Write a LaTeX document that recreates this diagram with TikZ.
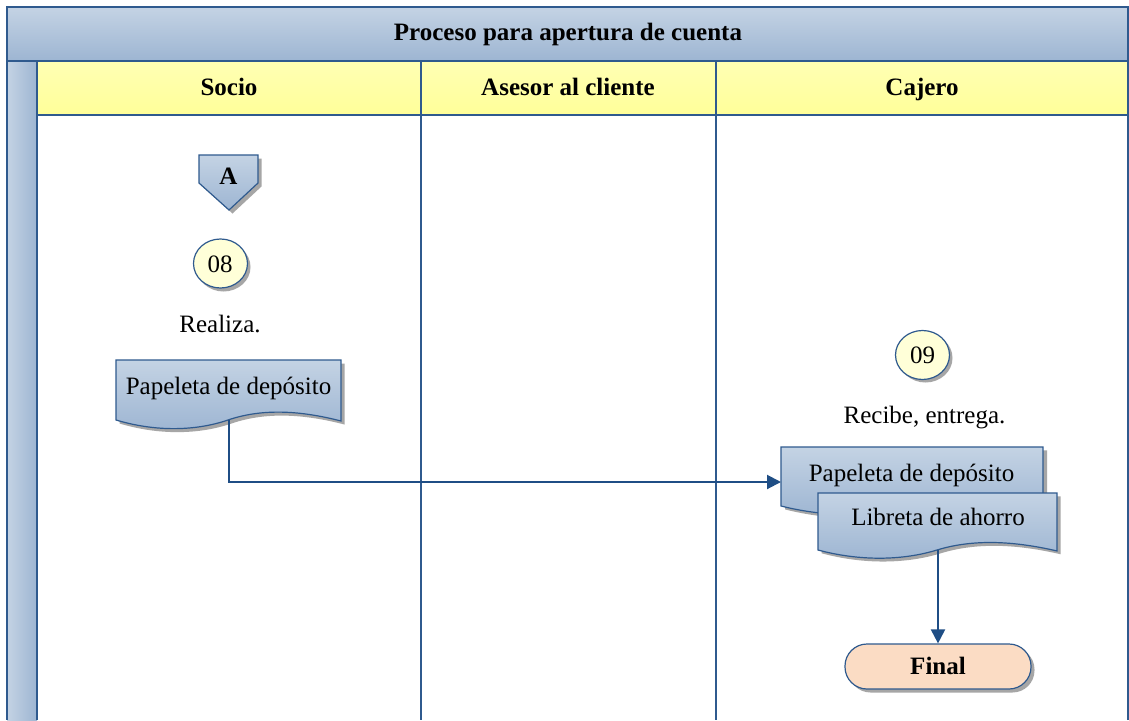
\documentclass[tikz,border=0pt]{standalone}
\usepackage{fontspec}
\setmainfont{Liberation Serif}
\usetikzlibrary{arrows.meta,shapes.geometric}
\definecolor{edge}{HTML}{2F5A8E}
\definecolor{flow}{HTML}{1F4E85}
\definecolor{blueT}{HTML}{C4D3E4}
\definecolor{blueB}{HTML}{9DB5D2}
\definecolor{yelT}{HTML}{FFFFB4}
\definecolor{yelB}{HTML}{FFFF99}
\definecolor{peach}{HTML}{FBDCC4}
\definecolor{shade}{HTML}{A6A6A6}
\definecolor{cream}{HTML}{FFFFD8}
\tikzset{
  x=1pt,y=-1pt,
  blueshape/.style={draw=edge,line width=1.2pt,top color=blueT,bottom color=blueB},
  shadowshape/.style={fill=shade,draw=none},
  titletext/.style={font=\fontsize{25}{28}\selectfont\bfseries,inner sep=0pt,anchor=base},
  bodytext/.style={font=\fontsize{25}{28}\selectfont,inner sep=0pt,anchor=base},
  laneline/.style={draw=edge,line width=2pt},
  flowline/.style={draw=flow,line width=2pt,-{Triangle[length=14pt,width=14pt]}},
  stepcircle/.style={ellipse,draw=edge,line width=1.2pt,fill=cream,minimum width=54pt,minimum height=49pt,inner sep=0pt},
}
\newcommand{\docshape}[4]{%
  \begin{scope}[shift={(#1,#2)},xscale=#3/225,yscale=#4/60]
    \fill[shadowshape,shift={(3.5,3.5)}] (0,0) -- (225,0) -- (225,61) .. controls (190,52) and (150,47) .. (112,60) .. controls (80,71) and (40,72) .. (0,60) -- cycle;
    \path[blueshape] (0,0) -- (225,0) -- (225,61) .. controls (190,52) and (150,47) .. (112,60) .. controls (80,71) and (40,72) .. (0,60) -- cycle;
  \end{scope}}
\begin{document}
\begin{tikzpicture}
\useasboundingbox (0,0) rectangle (1129,720);
\fill[white] (0,0) rectangle (1129,720);
% bands
\path[top color=blueT,bottom color=blueB] (7,7) rectangle (1128,61);
\path[left color=blueT,right color=blueB] (7,61) rectangle (37,720);
\path[top color=yelT,bottom color=yelB] (37,61) rectangle (1128,115);
% rules
\draw[laneline] (1128,720) -- (1128,7) -- (7,7) -- (7,720);
\draw[laneline] (7,61) -- (1128,61);
\draw[laneline] (37,115) -- (1128,115);
\draw[laneline] (37,61) -- (37,720);
\draw[laneline] (420.5,61) -- (420.5,720);
\draw[laneline] (716,61) -- (716,720);
% headers
\node[titletext] (title) at (568,40) {Proceso para apertura de cuenta};
\node[titletext] (socio) at (229,95) {Socio};
\node[titletext] (asesor) at (568,95) {Asesor al cliente};
\node[titletext] (cajero) at (922,95) {Cajero};
% off-page connector
\fill[shadowshape] (202.5,158.5) -- (261.5,158.5) -- (261.5,186.5) -- (232.5,213.5) -- (202.5,186.5) -- cycle;
\path[blueshape] (199,155) -- (258,155) -- (258,183) -- (229,210) -- (199,183) -- cycle;
\node[titletext] (a) at (228.5,184) {A};
% steps
\node[stepcircle,fill=shade,draw=none] at (223.5,267) {};
\node[stepcircle] (c08) at (220.5,263.5) {};
\node[bodytext] (s08) at (220,272) {08};
\node[bodytext] (realiza) at (220,332) {Realiza.};
\docshape{116}{360}{225}{60}
\node[bodytext] (doc1) at (228.5,394) {Papeleta de depósito};
\coordinate (doc1out) at (228.5,420);
\node[stepcircle,fill=shade,draw=none] at (925.5,358) {};
\node[stepcircle] (c09) at (922.5,355) {};
\node[bodytext] (s09) at (922.5,363) {09};
\node[bodytext] (recibe) at (924.5,423) {Recibe, entrega.};
\docshape{781}{447}{262}{59}
\node[bodytext] (doc2) at (911.5,481) {Papeleta de depósito};
\coordinate (doc2in) at (781,482);
\draw[flowline] (doc1out) |- (doc2in);
\docshape{818}{493}{239}{57}
\node[bodytext] (doc3) at (938,525) {Libreta de ahorro};
\coordinate (doc3out) at (938,550);
% final
\fill[shadowshape,rounded corners=22pt] (848.5,647.5) rectangle (1034.5,692.5);
\node[draw=edge,line width=1.2pt,fill=peach,rounded corners=22pt,minimum width=186pt,minimum height=45pt,inner sep=0pt] (final) at (938,666.5) {};
\node[titletext] (finaltext) at (938,674) {Final};
\draw[flowline] (doc3out) -- (final.north);
\end{tikzpicture}
\end{document}
